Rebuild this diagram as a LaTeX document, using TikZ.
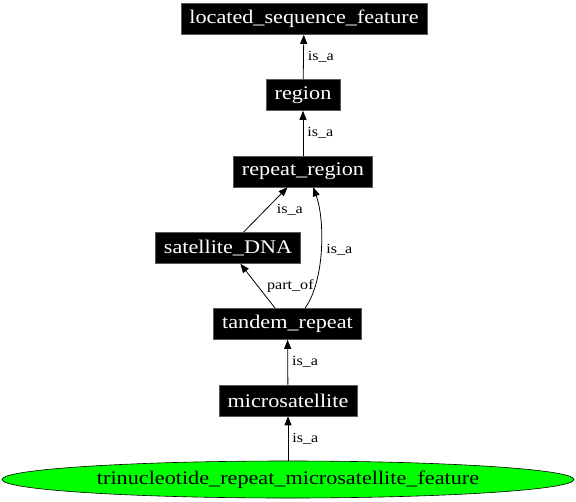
\documentclass[tikz,border=0pt]{standalone}
\usepackage{fontspec}
\usetikzlibrary{arrows.meta,shapes.geometric}
\newfontfamily\gvfont{Liberation Serif}[FakeStretch=1.15]
\tikzset{
  blackbox/.style={rectangle, fill=black, draw=black!65, line width=0.6pt, text=white,
    font=\gvfont\fontsize{19.3}{21}\selectfont, inner xsep=8.5pt, inner ysep=0pt, minimum height=31pt},
  greenell/.style={ellipse, fill=green, draw=black, line width=0.6pt, text=black,
    font=\gvfont\fontsize{19.3}{21}\selectfont, inner sep=0pt, minimum width=572pt, minimum height=37pt},
  edge/.style={draw=black, line width=0.8pt, -{Triangle[length=9pt,width=7pt]}},
  elabel/.style={font=\gvfont\fontsize{14}{16}\selectfont, inner sep=0pt, text=black}
}
\begin{document}
\begin{tikzpicture}[x=1pt,y=-1pt]
\useasboundingbox (0,0) rectangle (576,501);
\node[blackbox] (lsf) at (304,19) {located\_sequence\_feature};
\node[blackbox] (reg) at (303,95) {region};
\node[blackbox] (rr) at (303,171.5) {repeat\_region};
\node[blackbox] (sat) at (228,248) {satellite\_DNA};
\node[blackbox] (tr) at (287.5,324) {tandem\_repeat};
\node[blackbox] (mic) at (288,400.5) {microsatellite};
\node[greenell] (tri) at (288,479.5) {trinucleotide\_repeat\_microsatellite\_feature};

\draw[edge] (reg) -- node[elabel, midway, anchor=west, xshift=4pt] {is\_a} (lsf);
\draw[edge] (rr) -- node[elabel, midway, anchor=west, xshift=4pt] {is\_a} (reg);
\draw[edge] (sat) -- node[elabel, midway, anchor=west, xshift=11pt] {is\_a} (rr);
\draw[edge] (tr) -- node[elabel, midway, anchor=west, xshift=9pt] {part\_of} (sat);
\draw[edge] (tr.42) .. controls (325,280) and (325,220) .. node[elabel, pos=0.5, anchor=west, xshift=5pt] {is\_a} (rr.-57);
\draw[edge] (mic) -- node[elabel, midway, anchor=west, xshift=4pt] {is\_a} (tr);
\draw[edge] (tri) -- node[elabel, midway, anchor=west, xshift=4pt] {is\_a} (mic);
\end{tikzpicture}
\end{document}
